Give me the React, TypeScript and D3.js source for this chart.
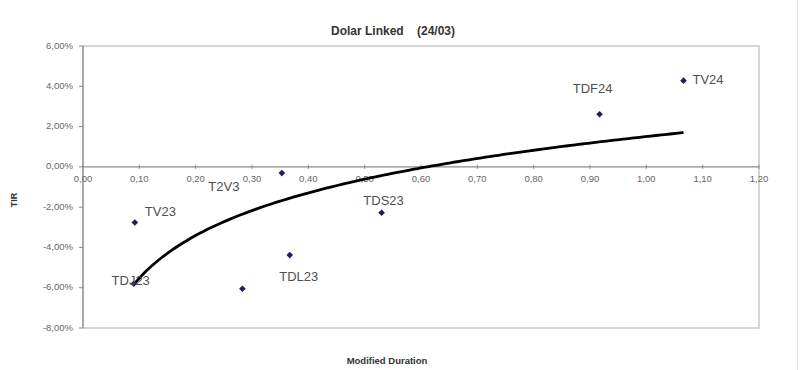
import React from "react";
import * as d3 from "d3";

const names = ["TV23", "TDJ23", "", "TDL23", "TDS23", "T2V3", "TDF24", "TV24"];
const duration = [0.092, 0.09, 0.283, 0.367, 0.53, 0.353, 0.917, 1.066];
const tir = [-2.76, -5.8, -6.05, -4.38, -2.28, -0.31, 2.61, 4.28];
const xTicks = [0, 0.1, 0.2, 0.3, 0.4, 0.5, 0.6, 0.7, 0.8, 0.9, 1.0, 1.1, 1.2];
const yTicks = [6, 4, 2, 0, -2, -4, -6, -8];

// label placement (layout, not data)
const labelPos: Record<string, { dx: number; dy: number; anchor: string }> = {
  TV23: { dx: 10, dy: -10, anchor: "start" },
  TDJ23: { dx: -3, dy: -2, anchor: "middle" },
  TDL23: { dx: 9, dy: 22, anchor: "middle" },
  TDS23: { dx: 2, dy: -11, anchor: "middle" },
  T2V3: { dx: -58, dy: 14, anchor: "middle" },
  TDF24: { dx: -7, dy: -25, anchor: "middle" },
  TV24: { dx: 9, dy: 0, anchor: "start" },
};

const W = 800, H = 370;
const L = 83, R = 759, T = 46, B = 328;

export default function App() {
  const x = d3.scaleLinear().domain([0, 1.2]).range([L, R]);
  const y = d3.scaleLinear().domain([-8, 6]).range([B, T]);
  const fmt = (v: number) => v.toFixed(2).replace(".", ",");

  // logarithmic trendline fitted to the points
  const lx = duration.map((d) => Math.log(d));
  const mx = d3.mean(lx)!;
  const my = d3.mean(tir)!;
  const sxy = d3.sum(lx.map((v, i) => (v - mx) * (tir[i] - my)));
  const sxx = d3.sum(lx.map((v) => (v - mx) ** 2));
  const a = sxy / sxx;
  const b = my - a * mx;
  const x0 = d3.min(duration)!;
  const x1 = d3.max(duration)!;
  const curvePts = d3.range(0, 101).map((i) => {
    const xv = x0 + ((x1 - x0) * i) / 100;
    return [xv, a * Math.log(xv) + b] as [number, number];
  });
  const line = d3
    .line<[number, number]>()
    .x((d) => x(d[0]))
    .y((d) => y(d[1]))
    .curve(d3.curveBasis);

  const font = "Arial, 'Liberation Sans', sans-serif";

  return (
    <svg
      width={W}
      height={H}
      style={{ position: "absolute", left: 0, top: 0, background: "#fff" }}
      fontFamily={font}
    >
      <rect x={0} y={0} width={W} height={H} fill="#fff" />
      <line x1={797.5} x2={797.5} y1={0} y2={H} stroke="#e4e4e4" strokeWidth={1} />
      {/* plot border */}
      <rect x={L} y={T} width={R - L} height={B - T} fill="none" stroke="#c8c8c8" strokeWidth={1.5} />
      {/* y axis */}
      <line x1={L} x2={L} y1={T} y2={B} stroke="#8a8a8a" strokeWidth={1.2} />
      {yTicks.map((t) => (
        <g key={t}>
          <line x1={L - 4} x2={L} y1={y(t)} y2={y(t)} stroke="#8a8a8a" />
          <text
            x={73}
            y={y(t)}
            textAnchor="end"
            dominantBaseline="middle"
            fontSize={9.5}
            fill="#666"
          >
            {fmt(t) + "%"}
          </text>
        </g>
      ))}
      {/* x axis at zero */}
      <line x1={L} x2={R} y1={y(0)} y2={y(0)} stroke="#8a8a8a" strokeWidth={1.2} />
      {xTicks.map((t) => (
        <g key={t}>
          <line x1={x(t)} x2={x(t)} y1={y(0) - 2} y2={y(0) + 2} stroke="#8a8a8a" />
          <text
            x={x(t)}
            y={y(0) + 13}
            textAnchor="middle"
            dominantBaseline="middle"
            fontSize={9.5}
            fill="#666"
          >
            {fmt(t)}
          </text>
        </g>
      ))}
      {/* trendline */}
      <path d={line(curvePts) || ""} fill="none" stroke="#000" strokeWidth={2.8} />
      {/* points */}
      {duration.map((d, i) => {
        const cx = x(d), cy = y(tir[i]);
        const s = 3.3;
        return (
          <path
            key={"p" + i}
            d={`M${cx},${cy - s}L${cx + s},${cy}L${cx},${cy + s}L${cx - s},${cy}Z`}
            fill="#1c1f5c"
          />
        );
      })}
      {/* labels */}
      {duration.map((d, i) => {
        const n = names[i];
        if (!n) return null;
        const p = labelPos[n];
        return (
          <text
            key={"l" + i}
            x={x(d) + p.dx}
            y={y(tir[i]) + p.dy}
            textAnchor={p.anchor}
            dominantBaseline="middle"
            fontSize={13}
            fill="#505050"
          >
            {n}
          </text>
        );
      })}
      {/* titles */}
      <text x={393} y={35} textAnchor="middle" fontSize={12} fontWeight="bold" fill="#333" style={{ whiteSpace: "pre" }}>
        {"Dolar Linked    (24/03)"}
      </text>
      <text
        transform={`translate(17,200) rotate(-90)`}
        textAnchor="middle"
        fontSize={9}
        fontWeight="bold"
        fill="#333"
      >
        TIR
      </text>
      <text x={387} y={364} textAnchor="middle" fontSize={9.5} fontWeight="bold" fill="#333">
        Modified Duration
      </text>
    </svg>
  );
}
